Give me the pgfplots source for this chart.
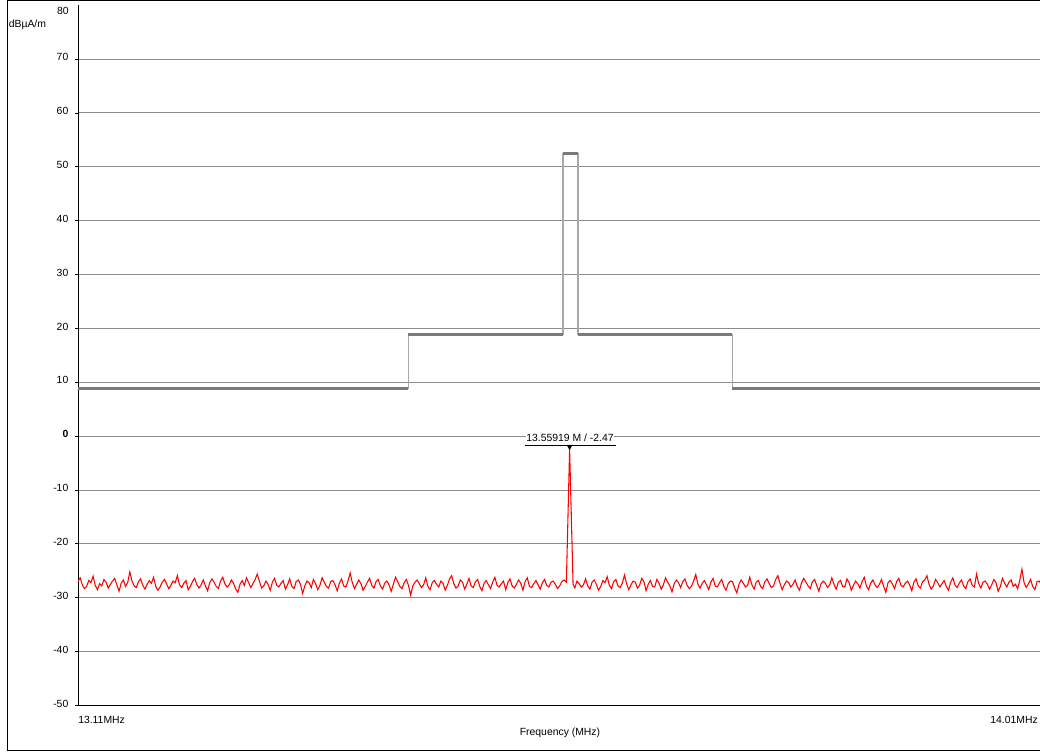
\documentclass[border=0pt]{standalone}
\usepackage{fontspec}
\setmainfont{Liberation Sans}
\usepackage{pgfplots}
\pgfplotsset{compat=1.18}
\definecolor{limdark}{RGB}{122,122,122}
\definecolor{limlight}{RGB}{168,168,168}
\definecolor{gridgray}{RGB}{140,140,140}
\newcommand\lab{\fontsize{7.8}{9.3}\selectfont}
\begin{document}
\begin{tikzpicture}
\useasboundingbox (0pt,0pt) rectangle (780pt,-564pt);
\draw[black, line width=0.75pt] (5.25pt,-0.75pt) rectangle (830pt,-562.5pt);
\begin{axis}[
  at={(58.5pt,-529.125pt)}, anchor=south west,
  scale only axis, width=721.5pt, height=525.2pt,
  xmin=13.104, xmax=13.99474, ymin=-50, ymax=80,
  axis x line=bottom, axis y line=left,
  axis line style={-, black, line width=0.75pt},
  xtick=\empty,
  ytick={-50,-40,-30,-20,-10,0,10,20,30,40,50,60,70},
  yticklabels={-50,-40,-30,-20,-10,\textbf{0},10,20,30,40,50,60,70},
  yticklabel style={font=\lab, xshift=-1.5pt, yshift=1.5pt},
  tick align=outside, major tick length=2.25pt,
  tick style={black, line width=0.6pt},
  ymajorgrids, grid style={gridgray, line width=0.75pt},
  clip=true,
]
% limit line
\addplot[limlight, line width=1.2pt] coordinates {(13.0,8.9)(13.410,8.9)(13.410,18.9)(13.553,18.9)(13.553,52.4)(13.567,52.4)(13.567,18.9)(13.710,18.9)(13.710,8.9)(14.1,8.9)};
\addplot[limdark, line width=2.2pt] coordinates {(13.0,8.9)(13.410,8.9)};
\addplot[limdark, line width=2.2pt] coordinates {(13.410,18.9)(13.553,18.9)};
\addplot[limdark, line width=2.2pt] coordinates {(13.553,52.4)(13.567,52.4)};
\addplot[limdark, line width=2.2pt] coordinates {(13.567,18.9)(13.710,18.9)};
\addplot[limdark, line width=2.2pt] coordinates {(13.710,8.9)(14.1,8.9)};
% measured trace
\addplot[red, line width=0.8pt] coordinates {
(13.104,-27.0)(13.106,-26.3)(13.108,-27.6)(13.110,-28.3)(13.112,-27.9)(13.114,-26.8)(13.116,-27.2)(13.118,-26.0)(13.120,-27.7)(13.122,-28.5)
(13.124,-27.4)(13.126,-27.8)(13.128,-26.6)(13.130,-27.1)(13.132,-28.2)(13.134,-27.5)(13.136,-26.9)(13.138,-26.4)(13.140,-27.6)(13.142,-28.8)
(13.144,-27.3)(13.146,-26.7)(13.148,-27.9)(13.150,-27.2)(13.152,-25.2)(13.154,-26.9)(13.156,-27.8)(13.158,-28.1)(13.160,-27.0)(13.162,-26.5)
(13.164,-27.7)(13.166,-28.4)(13.168,-27.5)(13.170,-26.8)(13.172,-27.3)(13.174,-26.2)(13.176,-27.9)(13.178,-28.6)(13.180,-28.0)(13.182,-27.1)
(13.184,-26.6)(13.186,-27.4)(13.188,-28.3)(13.190,-27.7)(13.192,-26.9)(13.194,-27.2)(13.196,-25.9)(13.198,-27.6)(13.200,-28.1)(13.202,-27.3)
(13.204,-26.8)(13.206,-28.5)(13.208,-27.9)(13.210,-27.0)(13.212,-26.4)(13.214,-27.5)(13.216,-28.2)(13.218,-27.6)(13.220,-26.7)(13.222,-27.8)
(13.224,-28.7)(13.226,-27.2)(13.228,-26.5)(13.230,-27.1)(13.232,-27.9)(13.234,-28.3)(13.236,-26.9)(13.238,-26.2)(13.240,-27.4)(13.242,-28.0)
(13.244,-27.6)(13.246,-26.7)(13.248,-27.3)(13.250,-28.4)(13.252,-29.0)(13.254,-27.5)(13.256,-26.8)(13.258,-27.7)(13.260,-26.3)(13.262,-27.2)
(13.264,-28.1)(13.266,-27.4)(13.268,-26.6)(13.270,-25.6)(13.272,-27.0)(13.274,-28.2)(13.276,-27.8)(13.278,-26.9)(13.280,-27.5)(13.282,-28.6)
(13.284,-27.1)(13.286,-26.4)(13.288,-27.7)(13.290,-28.0)(13.292,-27.3)(13.294,-26.8)(13.296,-28.4)(13.298,-27.6)(13.300,-26.5)(13.302,-27.9)
(13.304,-28.3)(13.306,-27.0)(13.308,-26.7)(13.310,-27.5)(13.312,-29.2)(13.314,-27.8)(13.316,-26.9)(13.318,-27.2)(13.320,-28.1)(13.322,-26.6)
(13.324,-27.4)(13.326,-28.5)(13.328,-27.7)(13.330,-26.3)(13.332,-27.1)(13.334,-27.9)(13.336,-28.2)(13.338,-27.0)(13.340,-26.8)(13.342,-27.6)
(13.344,-28.7)(13.346,-27.3)(13.348,-26.5)(13.350,-27.8)(13.352,-28.0)(13.354,-26.9)(13.356,-25.4)(13.358,-27.2)(13.360,-28.3)(13.362,-27.5)
(13.364,-26.7)(13.366,-27.4)(13.368,-28.6)(13.370,-27.9)(13.372,-27.1)(13.374,-26.4)(13.376,-27.7)(13.378,-28.2)(13.380,-27.0)(13.382,-26.6)
(13.384,-27.8)(13.386,-28.4)(13.388,-27.3)(13.390,-26.9)(13.392,-27.6)(13.394,-28.8)(13.396,-27.5)(13.398,-26.2)(13.400,-27.0)(13.402,-27.9)
(13.404,-28.3)(13.406,-27.2)(13.408,-26.6)(13.410,-27.7)(13.412,-29.5)(13.414,-27.8)(13.416,-27.1)(13.418,-26.7)(13.420,-27.4)(13.422,-28.1)
(13.424,-27.6)(13.426,-26.3)(13.428,-27.9)(13.430,-28.5)(13.432,-27.2)(13.434,-26.8)(13.436,-27.5)(13.438,-28.0)(13.440,-26.9)(13.442,-27.3)
(13.444,-28.6)(13.446,-27.7)(13.448,-26.5)(13.450,-25.9)(13.452,-27.4)(13.454,-28.2)(13.456,-27.8)(13.458,-26.7)(13.460,-27.1)(13.462,-28.4)
(13.464,-27.5)(13.466,-26.4)(13.468,-27.8)(13.470,-28.1)(13.472,-27.0)(13.474,-26.6)(13.476,-27.9)(13.478,-28.7)(13.480,-27.3)(13.482,-26.8)
(13.484,-27.6)(13.486,-28.3)(13.488,-27.1)(13.490,-26.2)(13.492,-27.7)(13.494,-28.0)(13.496,-27.4)(13.498,-26.9)(13.500,-28.5)(13.502,-27.2)
(13.504,-26.5)(13.506,-27.8)(13.508,-28.2)(13.510,-27.5)(13.512,-26.7)(13.514,-27.3)(13.516,-28.6)(13.518,-27.0)(13.520,-26.3)(13.522,-27.9)
(13.524,-28.1)(13.526,-27.4)(13.528,-26.8)(13.530,-27.6)(13.532,-28.4)(13.534,-27.2)(13.536,-26.6)(13.538,-27.7)(13.540,-28.0)(13.542,-27.1)
(13.544,-26.9)(13.546,-27.5)(13.548,-28.3)(13.550,-27.8)(13.552,-27.0)(13.554,-26.7)
(13.5562,-27.1)(13.55919,-2.47)(13.5624,-27.5)
(13.564,-28.2)(13.566,-26.9)(13.568,-27.4)(13.570,-28.0)(13.572,-27.6)(13.574,-26.5)(13.576,-27.8)(13.578,-28.4)(13.580,-27.1)(13.582,-26.7)
(13.584,-27.5)(13.586,-28.6)(13.588,-27.9)(13.590,-26.8)(13.592,-27.2)(13.594,-26.1)(13.596,-27.7)(13.598,-28.3)(13.600,-27.0)(13.602,-26.6)
(13.604,-27.8)(13.606,-28.1)(13.608,-27.3)(13.610,-25.8)(13.612,-27.4)(13.614,-28.5)(13.616,-27.6)(13.618,-26.9)(13.620,-27.1)(13.622,-28.2)
(13.624,-27.7)(13.626,-26.4)(13.628,-27.0)(13.630,-28.7)(13.632,-27.5)(13.634,-26.8)(13.636,-27.9)(13.638,-28.0)(13.640,-26.6)(13.642,-27.3)
(13.644,-28.4)(13.646,-27.6)(13.648,-26.3)(13.650,-27.1)(13.652,-27.8)(13.654,-28.9)(13.656,-27.4)(13.658,-26.7)(13.660,-27.2)(13.662,-28.1)
(13.664,-27.0)(13.666,-26.5)(13.668,-27.7)(13.670,-28.3)(13.672,-27.9)(13.674,-26.9)(13.676,-25.7)(13.678,-27.5)(13.680,-28.2)(13.682,-27.3)
(13.684,-26.8)(13.686,-27.6)(13.688,-28.5)(13.690,-27.1)(13.692,-26.4)(13.694,-27.8)(13.696,-28.0)(13.698,-27.2)(13.700,-26.6)(13.702,-27.9)
(13.704,-28.6)(13.706,-27.4)(13.708,-26.9)(13.710,-27.0)(13.712,-28.2)(13.714,-29.1)(13.716,-27.5)(13.718,-26.7)(13.720,-27.3)(13.722,-28.0)
(13.724,-27.7)(13.726,-26.2)(13.728,-27.6)(13.730,-28.4)(13.732,-27.1)(13.734,-26.8)(13.736,-27.9)(13.738,-28.3)(13.740,-27.0)(13.742,-26.5)
(13.744,-27.4)(13.746,-28.1)(13.748,-27.8)(13.750,-26.6)(13.752,-25.9)(13.754,-27.3)(13.756,-28.5)(13.758,-27.6)(13.760,-26.9)(13.762,-27.2)
(13.764,-28.0)(13.766,-27.5)(13.768,-26.7)(13.770,-27.9)(13.772,-28.6)(13.774,-27.2)(13.776,-26.4)(13.778,-27.1)(13.780,-27.8)(13.782,-28.3)
(13.784,-27.0)(13.786,-26.6)(13.788,-27.7)(13.790,-28.8)(13.792,-27.4)(13.794,-26.9)(13.796,-27.3)(13.798,-28.1)(13.800,-27.6)(13.802,-26.3)
(13.804,-27.5)(13.806,-28.4)(13.808,-27.1)(13.810,-26.8)(13.812,-27.9)(13.814,-28.0)(13.816,-26.5)(13.818,-27.2)(13.820,-28.6)(13.822,-27.7)
(13.824,-26.9)(13.826,-27.4)(13.828,-28.2)(13.830,-27.0)(13.832,-26.2)(13.834,-27.8)(13.836,-28.5)(13.838,-27.3)(13.840,-26.7)(13.842,-27.6)
(13.844,-28.1)(13.846,-27.5)(13.848,-26.6)(13.850,-27.9)(13.852,-29.0)(13.854,-27.2)(13.856,-26.8)(13.858,-27.4)(13.860,-28.3)(13.862,-27.0)
(13.864,-26.4)(13.866,-27.7)(13.868,-28.0)(13.870,-27.3)(13.872,-26.9)(13.874,-27.6)(13.876,-28.7)(13.878,-27.1)(13.880,-26.5)(13.882,-27.8)
(13.884,-28.2)(13.886,-27.0)(13.888,-26.7)(13.890,-25.9)(13.892,-27.5)(13.894,-28.4)(13.896,-27.8)(13.898,-26.6)(13.900,-27.2)(13.902,-28.0)
(13.904,-27.4)(13.906,-26.8)(13.908,-27.9)(13.910,-28.6)(13.912,-27.1)(13.914,-26.3)(13.916,-27.6)(13.918,-28.1)(13.920,-27.3)(13.922,-26.7)
(13.924,-27.8)(13.926,-28.3)(13.928,-27.0)(13.930,-26.5)(13.932,-27.7)(13.934,-28.0)(13.936,-25.6)(13.938,-27.4)(13.940,-28.2)(13.942,-27.1)
(13.944,-26.9)(13.946,-27.5)(13.948,-28.4)(13.950,-27.6)(13.952,-26.6)(13.954,-27.2)(13.956,-28.8)(13.958,-27.9)(13.960,-26.4)(13.962,-27.3)
(13.964,-28.0)(13.966,-27.1)(13.968,-26.7)(13.970,-27.9)(13.972,-27.5)(13.974,-28.3)(13.976,-26.8)(13.978,-24.7)(13.980,-27.2)(13.982,-28.1)
(13.984,-27.4)(13.986,-26.6)(13.988,-27.9)(13.990,-28.5)(13.992,-27.0)(13.994,-26.9)(13.996,-27.6)
};
% marker
\addplot[only marks, mark=triangle*, mark size=2.2pt, mark options={black, fill=black, yshift=2.2pt, rotate=180}] coordinates {(13.55919,-2.47)};
\end{axis}
\node[font=\lab, anchor=east, inner sep=0pt] at (51.75pt,-8.25pt) {80};
\node[font=\lab, anchor=west, inner sep=0pt] at (6.4pt,-18.4pt) {dBµA/m};
\node[font=\lab, anchor=west, inner sep=0pt] at (58.5pt,-540pt) {13.11MHz};
\node[font=\lab, anchor=east, inner sep=0pt] at (778.5pt,-540pt) {14.01MHz};
\node[font=\lab, inner sep=0pt] at (420pt,-549.75pt) {Frequency (MHz)};
\node[font=\lab, fill=white, inner sep=0.6pt] at (427.5pt,-328.5pt) {13.55919 M / -2.47};
\draw[black, line width=0.6pt] (393.5pt,-334.2pt) -- (462pt,-334.2pt);
\end{tikzpicture}
\end{document}
